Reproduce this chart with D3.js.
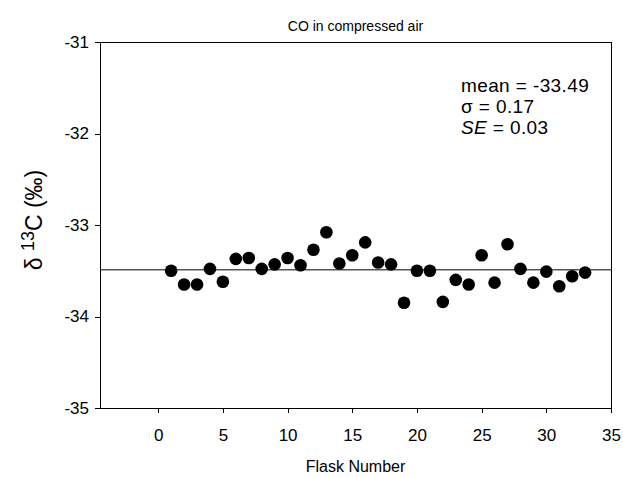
<!DOCTYPE html>
<html lang="en">
<head>
    <meta charset="UTF-8">
    <title>CO in compressed air</title>
    <script src="https://d3js.org/d3.v7.min.js"></script>
    <style>
        body { margin: 0; background: #fff; font-family: Arial, "Liberation Sans", sans-serif; }
        svg text { fill: #000; }
        .axis path, .axis line { stroke: #000; shape-rendering: crispEdges; }
    </style>
</head>
<body>
<div id="chart"></div>
<script>
    // Flask number and delta 13C values
    const flasks = [1, 2, 3, 4, 5, 6, 7, 8, 9, 10, 11, 12, 13, 14, 15, 16, 17,
                    18, 19, 20, 21, 22, 23, 24, 25, 26, 27, 28, 29, 30, 31, 32, 33];
    const d13C = [-33.50, -33.65, -33.65, -33.48, -33.62, -33.37, -33.36, -33.48, -33.43, -33.36, -33.44,
                  -33.27, -33.08, -33.42, -33.33, -33.19, -33.41, -33.43, -33.85, -33.50, -33.50, -33.84,
                  -33.60, -33.65, -33.33, -33.63, -33.21, -33.48, -33.63, -33.51, -33.67, -33.56, -33.52];
    const meanValue = -33.49;
    const xTicks = [0, 5, 10, 15, 20, 25, 30, 35];
    const yTicks = [-35, -34, -33, -32, -31];
    const statLines = ["mean = -33.49", "\u03c3 = 0.17", "SE = 0.03"];

    const W = 623, H = 477;
    const margin = {top: 42, right: 12, bottom: 69, left: 100};
    const width = W - margin.left - margin.right,
          height = H - margin.top - margin.bottom;

    const svgRoot = d3.select("#chart").append("svg")
        .attr("width", W)
        .attr("height", H)
        .style("font-family", "Arial, 'Liberation Sans', sans-serif");

    const svg = svgRoot.append("g")
        .attr("transform", `translate(${margin.left},${margin.top})`);

    const x = d3.scaleLinear().domain([-4.5, 35]).range([0, width]);
    const y = d3.scaleLinear().domain([-35, -31]).range([height, 0]);

    // frame (top and right)
    svg.append("path")
        .attr("d", `M0,0H${width}V${height}`)
        .attr("fill", "none")
        .attr("stroke", "#000")
        .attr("shape-rendering", "crispEdges");

    // axes, plain hyphen for negative numbers like the original
    const fmt = d => String(d);
    const xAxis = svg.append("g")
        .attr("class", "axis")
        .attr("transform", `translate(0,${height})`)
        .call(d3.axisBottom(x).tickValues(xTicks).tickFormat(fmt).tickSize(5).tickPadding(16).tickSizeOuter(0));
    xAxis.attr("font-family", null).attr("font-size", null);
    xAxis.selectAll("text").style("font-size", "17px");

    const yAxis = svg.append("g")
        .attr("class", "axis")
        .call(d3.axisLeft(y).tickValues(yTicks).tickFormat(fmt).tickSize(5).tickPadding(6).tickSizeOuter(0));
    yAxis.attr("font-family", null).attr("font-size", null);
    yAxis.selectAll("text").style("font-size", "17px");

    // mean line
    svg.append("line")
        .attr("x1", 0).attr("x2", width)
        .attr("y1", y(meanValue)).attr("y2", y(meanValue))
        .attr("stroke", "#000")
        .attr("stroke-width", 1);

    // points
    const pts = flasks.map((f, i) => ({flask: f, value: d13C[i]}));
    svg.selectAll("circle.pt")
        .data(pts)
        .enter().append("circle")
        .attr("class", "pt")
        .attr("cx", d => x(d.flask))
        .attr("cy", d => y(d.value))
        .attr("r", 6.3)
        .attr("fill", "#000");

    // title
    svgRoot.append("text")
        .attr("x", margin.left + width / 2)
        .attr("y", 31)
        .attr("text-anchor", "middle")
        .style("font-size", "14px")
        .text("CO in compressed air");

    // x label
    svgRoot.append("text")
        .attr("x", margin.left + width / 2)
        .attr("y", 472)
        .attr("text-anchor", "middle")
        .style("font-size", "16px")
        .text("Flask Number");

    // y label with superscript
    const yl = svgRoot.append("text")
        .attr("transform", `translate(42,220) rotate(-90)`)
        .attr("text-anchor", "middle")
        .style("font-size", "23px");
    yl.append("tspan").text("\u03b4 ");
    yl.append("tspan").attr("dy", -8).style("font-size", "18px").text("13");
    yl.append("tspan").attr("dy", 8).text("C (\u2030)");

    // statistics
    const stats = svg.append("g")
        .attr("transform", `translate(${x(23.4)},${y(-31.55)})`)
        .style("font-size", "19px")
        .style("letter-spacing", "0.4px");
    stats.append("text").attr("y", 0).text(statLines[0]);
    stats.append("text").attr("y", 21).text(statLines[1]);
    const se = stats.append("text").attr("y", 42);
    se.append("tspan").style("font-style", "italic").text("SE");
    se.append("tspan").text(statLines[2].slice(2));
</script>
</body>
</html>
